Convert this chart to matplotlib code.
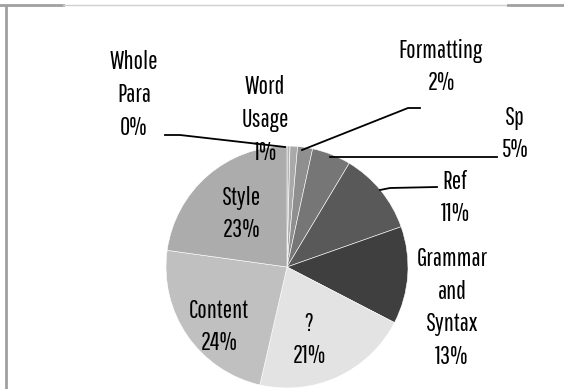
import matplotlib.pyplot as plt

# chart data
labels = ['Whole\nPara', 'Word\nUsage', 'Formatting', 'Sp', 'Ref',
          'Grammar\nand\nSyntax', '?', 'Content', 'Style']
values = [0.4, 1.0, 2.0, 5.2, 11.0, 13.0, 21.0, 23.6, 22.8]
colors = ['#b4b4b4', '#a9a9a9', '#8f8f8f', '#767676', '#595959',
          '#3f3f3f', '#e3e3e3', '#c0c0c0', '#acacac']

# label centres (pixels from top-left) and leader lines
label_pos = [(134, 95), (265, 120), (441, 67), (515, 134), (455, 198),
             (452, 308), (309, 340), (219, 327), (242, 214)]
leaders = {
    0: [(165, 135), (180, 135), (285, 147)],
    2: [(420, 108), (408, 108), (302, 150)],
    3: [(497, 157), (330, 157)],
    4: [(437, 187), (390, 188), (380, 190)],
}

plt.rcParams['font.family'] = ['Pathway Gothic One', 'DejaVu Sans']

W, H = 564, 389
fig = plt.figure(figsize=(W / 100, H / 100), dpi=100)
ax = fig.add_axes([0, 0, 1, 1])

ax.pie(values, colors=colors, startangle=90, counterclock=False,
       center=(287, H - 267), radius=121, frame=True,
       wedgeprops=dict(edgecolor='white', linewidth=0.4))
ax.set_xlim(0, W)
ax.set_ylim(0, H)
ax.set_aspect('equal')
ax.axis('off')

for i, (lab, v) in enumerate(zip(labels, values)):
    x, y = label_pos[i]
    ax.text(x, H - y, '%s\n%d%%' % (lab, round(v)), ha='center', va='center',
            fontsize=18, linespacing=1.45, color='black')

for pts in leaders.values():
    ax.plot([p[0] for p in pts], [H - p[1] for p in pts], color='black', lw=1.3)

# frame remnants of the original chart box
ax.plot([6, 6], [0, H - 5], color='#a0a0a0', lw=2, solid_capstyle='butt')
ax.plot([0, 63], [H - 5, H - 5], color='#a0a0a0', lw=2)
ax.plot([63, 508], [H - 5, H - 5], color='#cfcfcf', lw=1)
ax.plot([508, W], [H - 5, H - 5], color='#a0a0a0', lw=2)

fig.savefig('out.png', dpi=100)
